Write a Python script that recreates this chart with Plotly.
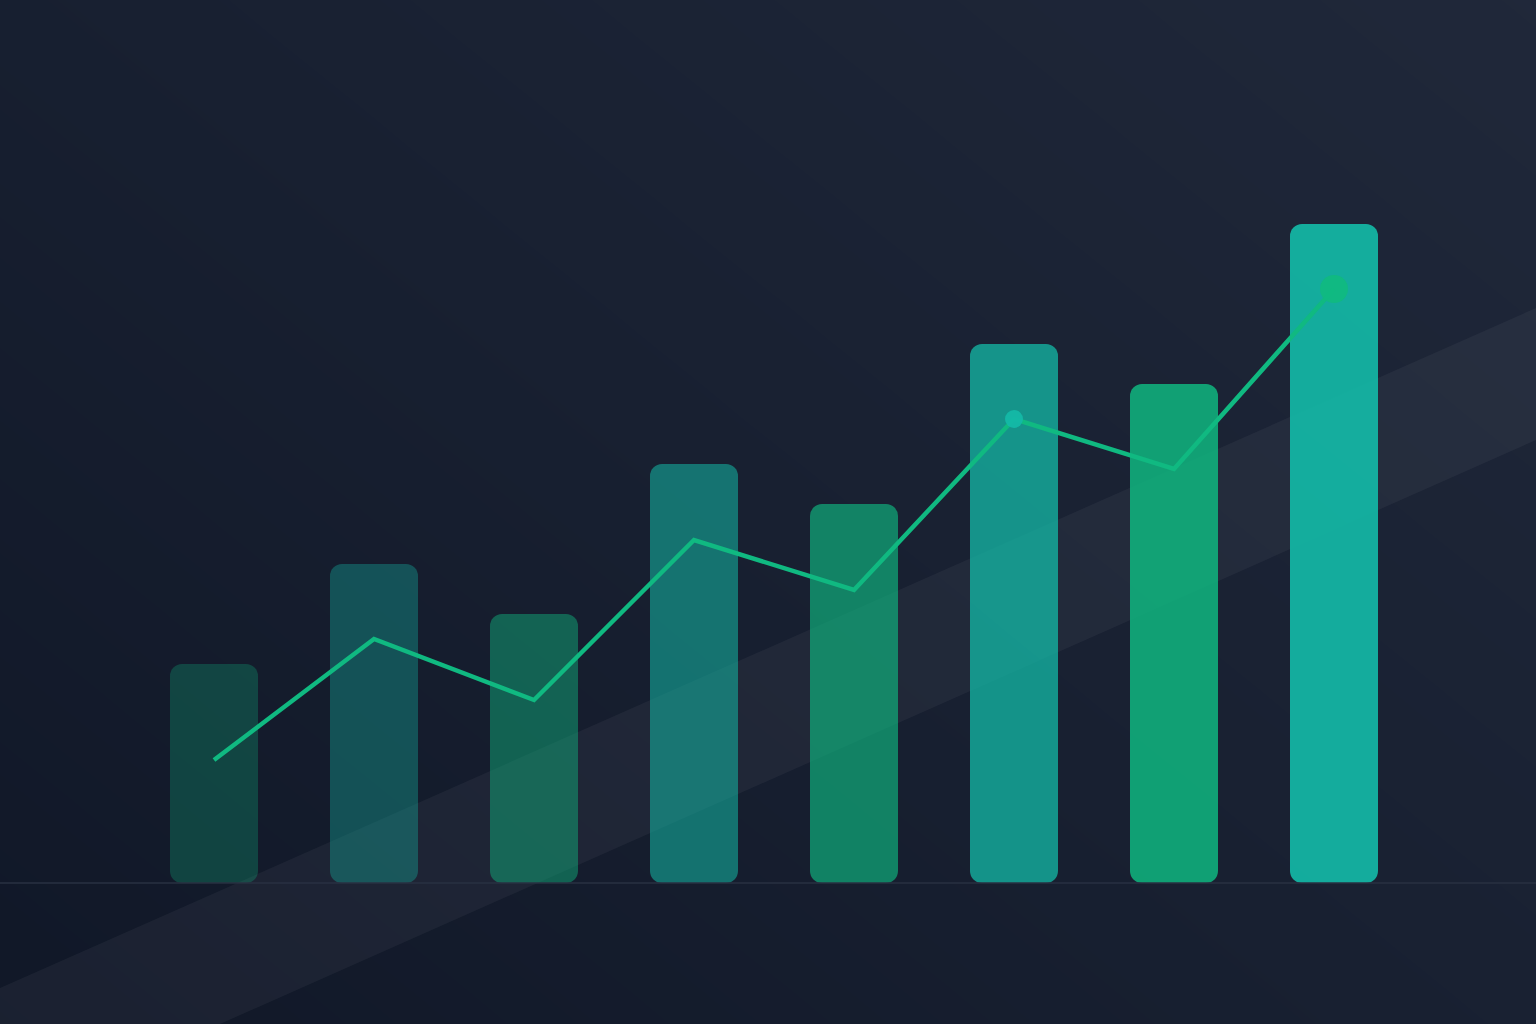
import numpy as np
import plotly.graph_objects as go

# chart values
periods = [1, 2, 3, 4, 5, 6, 7, 8]
bar_values = [21.9, 31.9, 26.9, 41.9, 37.9, 53.9, 49.9, 65.9]
trend_values = [12.3, 24.4, 18.3, 34.3, 29.3, 46.4, 41.4, 59.4]
bar_opacity = [0.27, 0.35, 0.45, 0.55, 0.65, 0.76, 0.84, 0.92]
bar_hue = ["emerald", "teal", "emerald", "teal", "emerald", "teal", "emerald", "teal"]
highlight_idx = [5, 7]

EMERALD = (16, 185, 129)
TEAL = (20, 184, 166)

W, H = 1536, 1024
x_range = [-0.3375, 9.2625]     # 160 px per period, first bar centred at 214 px
y_range = [-14.1, 88.3]         # 10 px per unit, zero line at 883 px


def rgba(rgb, a):
    return f"rgba({rgb[0]},{rgb[1]},{rgb[2]},{a})"


def paper_to_data(px, py):
    # pixel position on the page -> data coordinates
    x = x_range[0] + px / W * (x_range[1] - x_range[0])
    y = y_range[1] - py / H * (y_range[1] - y_range[0])
    return x, y


fig = go.Figure()

# Background diagonal gradient (base subplot)
gx = np.linspace(x_range[0] - 0.2, x_range[1] + 0.2, 40)
gy = np.linspace(y_range[0] - 2, y_range[1] + 2, 40)
fx = (gx - gx[0]) / (gx[-1] - gx[0])
fy = (gy - gy[0]) / (gy[-1] - gy[0])
gz = (fx[None, :] * 0.55 + fy[:, None] * 0.45)
fig.add_trace(go.Heatmap(
    x=gx, y=gy, z=gz, zsmooth="best", showscale=False, hoverinfo="skip",
    colorscale=[[0, "#101727"], [0.5, "#182031"], [1, "#20283a"]],
))

# Light diagonal band, under the bars
band_px = [(0, 988), (1536, 308), (1536, 440), (220, 1024), (0, 1024)]
band = [paper_to_data(px, py) for px, py in band_px]
fig.add_trace(go.Scatter(
    x=[b[0] for b in band] + [band[0][0]], y=[b[1] for b in band] + [band[0][1]],
    mode="lines", fill="toself", fillcolor="rgba(255,255,255,0.045)",
    line=dict(width=0), hoverinfo="skip",
))

# Bars on an overlaying subplot so they sit above the band
colors = [rgba(EMERALD if h == "emerald" else TEAL, a) for h, a in zip(bar_hue, bar_opacity)]
fig.add_trace(go.Bar(
    x=periods, y=bar_values, base=[0] * len(periods), width=0.55,
    marker=dict(color=colors, line=dict(width=0), cornerradius=12),
    xaxis="x2", yaxis="y2",
))

# Trend line
fig.add_trace(go.Scatter(
    x=periods, y=trend_values, mode="lines",
    line=dict(color="#10b981", width=4.5),
    xaxis="x2", yaxis="y2",
))
fig.add_trace(go.Scatter(
    x=[periods[i] for i in highlight_idx], y=[trend_values[i] for i in highlight_idx],
    mode="markers",
    marker=dict(color=["#14b8a6", "#10b981"], size=[18, 28], opacity=0.95, line=dict(width=0)),
    xaxis="x2", yaxis="y2",
))

fig.update_layout(
    width=W, height=H,
    margin=dict(l=0, r=0, t=0, b=0),
    paper_bgcolor="#141b2c",
    plot_bgcolor="#141b2c",
    showlegend=False,
    barmode="overlay",
    xaxis=dict(range=x_range, visible=False, fixedrange=True),
    yaxis=dict(range=y_range, visible=False, fixedrange=True),
    xaxis2=dict(range=x_range, visible=False, fixedrange=True, overlaying="x"),
    yaxis2=dict(range=y_range, visible=False, fixedrange=True, overlaying="y"),
    shapes=[dict(type="line", xref="paper", x0=0, x1=1, yref="y", y0=0, y1=0,
                 line=dict(color="#283142", width=1.5), layer="above")],
)

fig.write_html("out.html", config={"displayModeBar": False},
               post_script="document.body.style.margin='0';")
